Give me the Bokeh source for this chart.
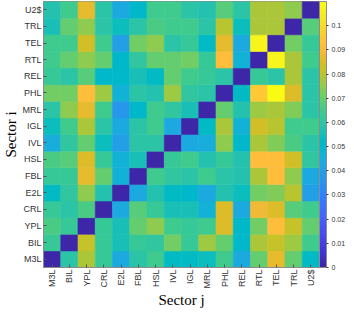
from bokeh.plotting import figure
from bokeh.models import LinearColorMapper, ColorBar, FixedTicker, ColumnDataSource, FactorRange
from bokeh.embed import file_html
from bokeh.resources import INLINE
from math import pi

sectors = ["M3L", "BIL", "YPL", "CRL", "E2L", "FBL", "HSL", "IVL",
           "IGL", "MRL", "PHL", "REL", "RTL", "TEL", "TRL", "U2$"]

# rows: sector i (y), columns: sector j (x), same order as sectors
row_M3L = [0, 0.060, 0.079, 0.062, 0.043, 0.060, 0.064, 0.053, 0.053, 0.054, 0.065, 0.044, 0.070, 0.087, 0.069, 0.053]
row_BIL = [0.063, 0, 0.082, 0.062, 0.055, 0.063, 0.061, 0.071, 0.062, 0.077, 0.069, 0.051, 0.078, 0.081, 0.077, 0.065]
row_YPL = [0.066, 0.062, 0, 0.063, 0.056, 0.070, 0.075, 0.064, 0.063, 0.065, 0.085, 0.051, 0.071, 0.092, 0.082, 0.069]
row_CRL = [0.063, 0.060, 0.066, 0, 0.043, 0.068, 0.063, 0.055, 0.055, 0.047, 0.085, 0.043, 0.089, 0.085, 0.068, 0.064]
row_E2L = [0.052, 0.061, 0.074, 0.058, 0, 0.043, 0.057, 0.053, 0.051, 0.043, 0.057, 0.054, 0.071, 0.073, 0.080, 0.040]
row_FBL = [0.063, 0.063, 0.087, 0.070, 0.047, 0, 0.065, 0.061, 0.059, 0.065, 0.060, 0.058, 0.079, 0.092, 0.075, 0.044]
row_HSL = [0.066, 0.068, 0.085, 0.063, 0.047, 0.056, 0, 0.063, 0.065, 0.058, 0.063, 0.057, 0.092, 0.092, 0.083, 0.061]
row_IVL = [0.046, 0.061, 0.070, 0.054, 0.041, 0.060, 0.060, 0, 0.043, 0.045, 0.075, 0.051, 0.079, 0.073, 0.066, 0.060]
row_IGL = [0.054, 0.065, 0.078, 0.059, 0.043, 0.060, 0.064, 0.043, 0, 0.052, 0.079, 0.047, 0.083, 0.080, 0.064, 0.064]
row_MRL = [0.059, 0.075, 0.086, 0.064, 0.037, 0.051, 0.064, 0.061, 0.056, 0, 0.070, 0.057, 0.077, 0.078, 0.073, 0.060]
row_PHL = [0.071, 0.071, 0.092, 0.076, 0.047, 0.060, 0.057, 0.076, 0.061, 0.060, 0, 0.053, 0.095, 0.110, 0.085, 0.060]
row_REL = [0.062, 0.060, 0.068, 0.051, 0.050, 0.055, 0.052, 0.069, 0.064, 0.062, 0.060, 0, 0.063, 0.060, 0.078, 0.059]
row_RTL = [0.065, 0.069, 0.074, 0.069, 0.051, 0.061, 0.069, 0.069, 0.071, 0.063, 0.092, 0.047, 0, 0.108, 0.078, 0.065]
row_TEL = [0.064, 0.064, 0.084, 0.065, 0.040, 0.071, 0.074, 0.060, 0.062, 0.052, 0.086, 0.043, 0.107, 0, 0.071, 0.063]
row_TRL = [0.056, 0.070, 0.074, 0.060, 0.054, 0.059, 0.066, 0.065, 0.064, 0.060, 0.080, 0.054, 0.079, 0.079, 0, 0.068]
row_U2S = [0.058, 0.065, 0.087, 0.060, 0.043, 0.050, 0.065, 0.065, 0.060, 0.058, 0.068, 0.060, 0.079, 0.079, 0.075, 0]

rows = [row_M3L, row_BIL, row_YPL, row_CRL, row_E2L, row_FBL, row_HSL, row_IVL,
        row_IGL, row_MRL, row_PHL, row_REL, row_RTL, row_TEL, row_TRL, row_U2S]

cbar_ticks = [0, 0.01, 0.02, 0.03, 0.04, 0.05, 0.06, 0.07, 0.08, 0.09, 0.1]
cbar_labels = ["0", "0.01", "0.02", "0.03", "0.04", "0.05", "0.06", "0.07", "0.08", "0.09", "0.1"]
cmax = 0.11

parula_rgb = [
    (0.2422, 0.1504, 0.6603), (0.2504, 0.1650, 0.7076), (0.2578, 0.1818, 0.7511), (0.2647, 0.1978, 0.7952),
    (0.2706, 0.2147, 0.8364), (0.2751, 0.2342, 0.8710), (0.2783, 0.2559, 0.8991), (0.2803, 0.2782, 0.9221),
    (0.2813, 0.3006, 0.9414), (0.2810, 0.3228, 0.9579), (0.2795, 0.3447, 0.9717), (0.2760, 0.3667, 0.9829),
    (0.2699, 0.3892, 0.9906), (0.2602, 0.4123, 0.9952), (0.2440, 0.4358, 0.9988), (0.2206, 0.4603, 0.9973),
    (0.1963, 0.4847, 0.9892), (0.1834, 0.5074, 0.9798), (0.1786, 0.5289, 0.9682), (0.1764, 0.5499, 0.9520),
    (0.1687, 0.5703, 0.9359), (0.1540, 0.5902, 0.9218), (0.1460, 0.6091, 0.9079), (0.1380, 0.6276, 0.8973),
    (0.1248, 0.6459, 0.8883), (0.1113, 0.6635, 0.8763), (0.0952, 0.6798, 0.8598), (0.0689, 0.6948, 0.8394),
    (0.0297, 0.7082, 0.8163), (0.0036, 0.7203, 0.7917), (0.0067, 0.7312, 0.7660), (0.0433, 0.7411, 0.7394),
    (0.0964, 0.7500, 0.7120), (0.1408, 0.7584, 0.6842), (0.1717, 0.7670, 0.6554), (0.1938, 0.7758, 0.6251),
    (0.2161, 0.7843, 0.5923), (0.2470, 0.7918, 0.5567), (0.2906, 0.7973, 0.5188), (0.3406, 0.8008, 0.4789),
    (0.3909, 0.8029, 0.4354), (0.4456, 0.8024, 0.3909), (0.5044, 0.7993, 0.3480), (0.5616, 0.7942, 0.3045),
    (0.6174, 0.7876, 0.2612), (0.6720, 0.7793, 0.2227), (0.7242, 0.7698, 0.1910), (0.7738, 0.7598, 0.1646),
    (0.8203, 0.7498, 0.1535), (0.8634, 0.7406, 0.1596), (0.9035, 0.7330, 0.1774), (0.9393, 0.7288, 0.2100),
    (0.9728, 0.7298, 0.2394), (0.9956, 0.7434, 0.2371), (0.9970, 0.7659, 0.2199), (0.9952, 0.7893, 0.2028),
    (0.9892, 0.8136, 0.1885), (0.9786, 0.8386, 0.1766), (0.9676, 0.8639, 0.1643), (0.9610, 0.8890, 0.1537),
    (0.9597, 0.9135, 0.1423), (0.9628, 0.9373, 0.1265), (0.9691, 0.9606, 0.1064), (0.9769, 0.9839, 0.0805),
]
palette = ["#%02x%02x%02x" % tuple(int(round(c * 255)) for c in rgb) for rgb in parula_rgb]

xs, ys, vals = [], [], []
for i, si in enumerate(sectors):
    for j, sj in enumerate(sectors):
        xs.append(sj)
        ys.append(si)
        vals.append(rows[i][j])
src = ColumnDataSource(dict(x=xs, y=ys, v=vals))

mapper = LinearColorMapper(palette=palette, low=0, high=cmax)

p = figure(frame_width=276, frame_height=266, x_range=FactorRange(*sectors), y_range=FactorRange(*sectors),
           output_backend="svg", toolbar_location=None,
           min_border_top=1, min_border_left=0, min_border_right=0, min_border_bottom=0)
p.rect(x="x", y="y", width=1, height=1, source=src,
       fill_color={"field": "v", "transform": mapper},
       line_color={"field": "v", "transform": mapper}, line_width=0.6)

p.grid.visible = False
p.outline_line_color = "#8c8c8c"

for ax in (p.below[0], p.left[0]):
    ax.axis_line_color = "#8c8c8c"
    ax.major_tick_line_color = "#555555"
    ax.major_tick_in = 3
    ax.major_tick_out = 0
    ax.major_label_text_font = "Liberation Sans"
    ax.major_label_text_font_size = "9px"
    ax.major_label_text_color = "#333333"
    ax.axis_label_text_font = "Liberation Serif"
    ax.axis_label_text_font_style = "normal"
    ax.axis_label_text_font_size = "15px"
    ax.axis_label_text_color = "#000000"
    ax.axis_label_standoff = 0
    ax.major_label_standoff = 2

p.below[0].axis_label = "Sector j"
p.left[0].axis_label = "Sector i"
p.below[0].major_label_orientation = pi / 2

cb = ColorBar(color_mapper=mapper, ticker=FixedTicker(ticks=cbar_ticks),
              major_label_overrides={t: l for t, l in zip(cbar_ticks, cbar_labels)},
              width=7, padding=0, margin=5, label_standoff=3,
              major_label_text_font="Liberation Sans", major_label_text_font_size="7px",
              major_label_text_color="#333333",
              major_tick_line_color="#333333", major_tick_in=0, major_tick_out=2,
              bar_line_color="#8c8c8c", border_line_color=None, background_fill_color=None)
p.add_layout(cb, "right")

open("out.html", "w").write(file_html(p, INLINE))
